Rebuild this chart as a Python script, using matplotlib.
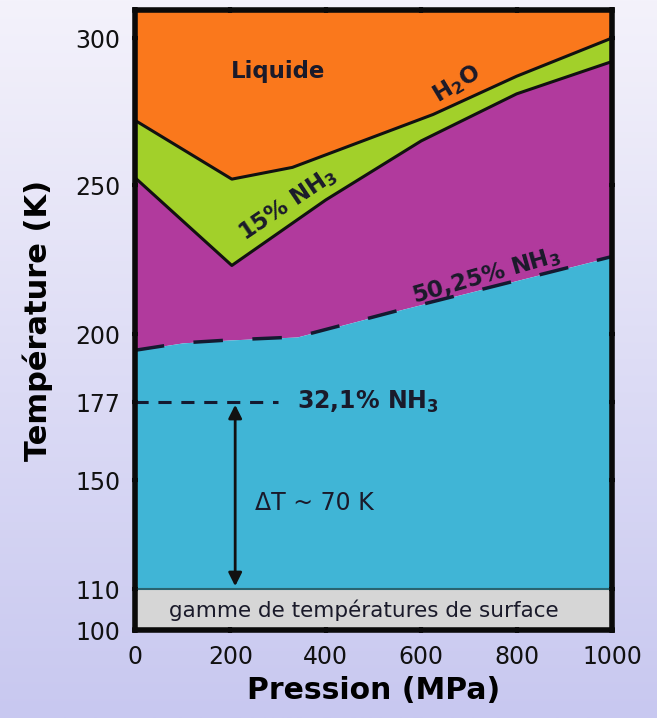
import matplotlib.pyplot as plt
from matplotlib.colors import LinearSegmentedColormap
import numpy as np

# courbes de fusion (P en MPa, T en K)
p_h2o = [0, 203, 330, 625, 800, 1000]
t_h2o = [272, 252, 256, 274, 287, 300]
p_15 = [0, 203, 400, 600, 800, 1000]
t_15 = [252.5, 223, 245, 265, 281, 292]
p_50 = [0, 100, 200, 340, 566, 1000]
t_50 = [194.5, 197, 198, 199, 208.5, 226]
t_eut = 177          # 32,1% NH3
p_eut_end = 300
t_surf = [100, 110]  # gamme de températures de surface
yticks = [100, 110, 150, 177, 200, 250, 300]
xticks = [0, 200, 400, 600, 800, 1000]

# échelle verticale de la figure d'origine (non linéaire en bas)
t_ref = [100, 110, 150, 177, 200, 250, 300, 310]
px_ref = [0, 41, 150, 228, 296, 445, 592, 621.5]
fwd = lambda v: np.interp(v, t_ref, px_ref, left=-1e3, right=1e3)
inv = lambda v: np.interp(v, px_ref, t_ref)

plt.rcParams['font.family'] = ['DejaVu Sans']
fig = plt.figure(figsize=(6.57, 7.18), dpi=100)

# fond dégradé lavande
bg = fig.add_axes([0, 0, 1, 1], zorder=-10)
grad = np.linspace(0, 1, 256)[:, None]
bg.imshow(grad, aspect='auto', extent=[0, 1, 0, 1],
          cmap=LinearSegmentedColormap.from_list('bg', ['#f4f2fb', '#c8c8f0']))
bg.axis('off')

ax = fig.add_axes([135 / 657, 1 - 630 / 718, 477 / 657, 620 / 718])
ax.set_yscale('function', functions=(fwd, inv))
ax.set_xlim(0, 1000)
ax.set_ylim(100, 309.5)

P = np.linspace(0, 1000, 501)
T_h2o = np.interp(P, p_h2o, t_h2o)
T_15 = np.interp(P, p_15, t_15)
T_50 = np.interp(P, p_50, t_50)

ax.fill_between(P, T_h2o, 320, color='#fa781c', lw=0)
ax.fill_between(P, T_15, T_h2o, color='#a2d02a', lw=0)
ax.fill_between(P, T_50, T_15, color='#b13a9d', lw=0)
ax.fill_between(P, t_surf[1], T_50, color='#40b5d6', lw=0)
ax.fill_between(P, t_surf[0], t_surf[1], color='#d6d6d6', lw=0)
ax.axhline(t_surf[1], color='#2a6470', lw=1.5)

ax.plot(p_h2o, t_h2o, color='#111111', lw=2.2)
ax.plot(p_15, t_15, color='#111111', lw=2.2)
ax.plot(p_50, t_50, color='#141a30', lw=2.5, dashes=(8.5, 8.5))
ax.plot([0, p_eut_end], [t_eut, t_eut], color='#141a30', lw=2.2, dashes=(4.3, 3.2))

ax.annotate('', xy=(210, t_surf[1]), xytext=(210, t_eut),
            arrowprops=dict(arrowstyle='<|-|>', color='#111111', lw=2, mutation_scale=20))

lab = dict(color='#1a1a2a', fontsize=16.5, fontweight='bold', ha='center', va='center')
ax.text(300, 288.5, 'Liquide', **lab)
ax.text(675, 284.5, 'H$_\\mathbf{2}$O', rotation=31, **lab)
ax.text(320, 243.5, '15% NH$_\\mathbf{3}$', rotation=34, **lab)
ax.text(737, 219.5, '50,25% NH$_\\mathbf{3}$', rotation=16, **lab)
ax.text(340, t_eut, '32,1% NH$_\\mathbf{3}$', color='#1a1a2a', fontsize=17,
        fontweight='bold', ha='left', va='center')
ax.text(252, 141.6, 'ΔT ~ 70 K', ha='left', va='center', color='#1a1a2a', fontsize=17)
ax.text(480, 104.8, 'gamme de températures de surface', ha='center', va='center',
        color='#1a1a2a', fontsize=15.5)

ax.set_xticks(xticks)
ax.set_yticks(yticks)
ax.tick_params(labelsize=17, width=3, length=5, direction='inout', colors='#111111',
               top=True, right=True, pad=8)
for s in ax.spines.values():
    s.set_linewidth(4)
    s.set_color('#0a0a0a')
ax.set_xlabel('Pression (MPa)', fontsize=21.5, fontweight='bold', labelpad=5)
ax.set_ylabel('Température (K)', fontsize=22, fontweight='bold', labelpad=16)

fig.savefig('out.png', dpi=100)
